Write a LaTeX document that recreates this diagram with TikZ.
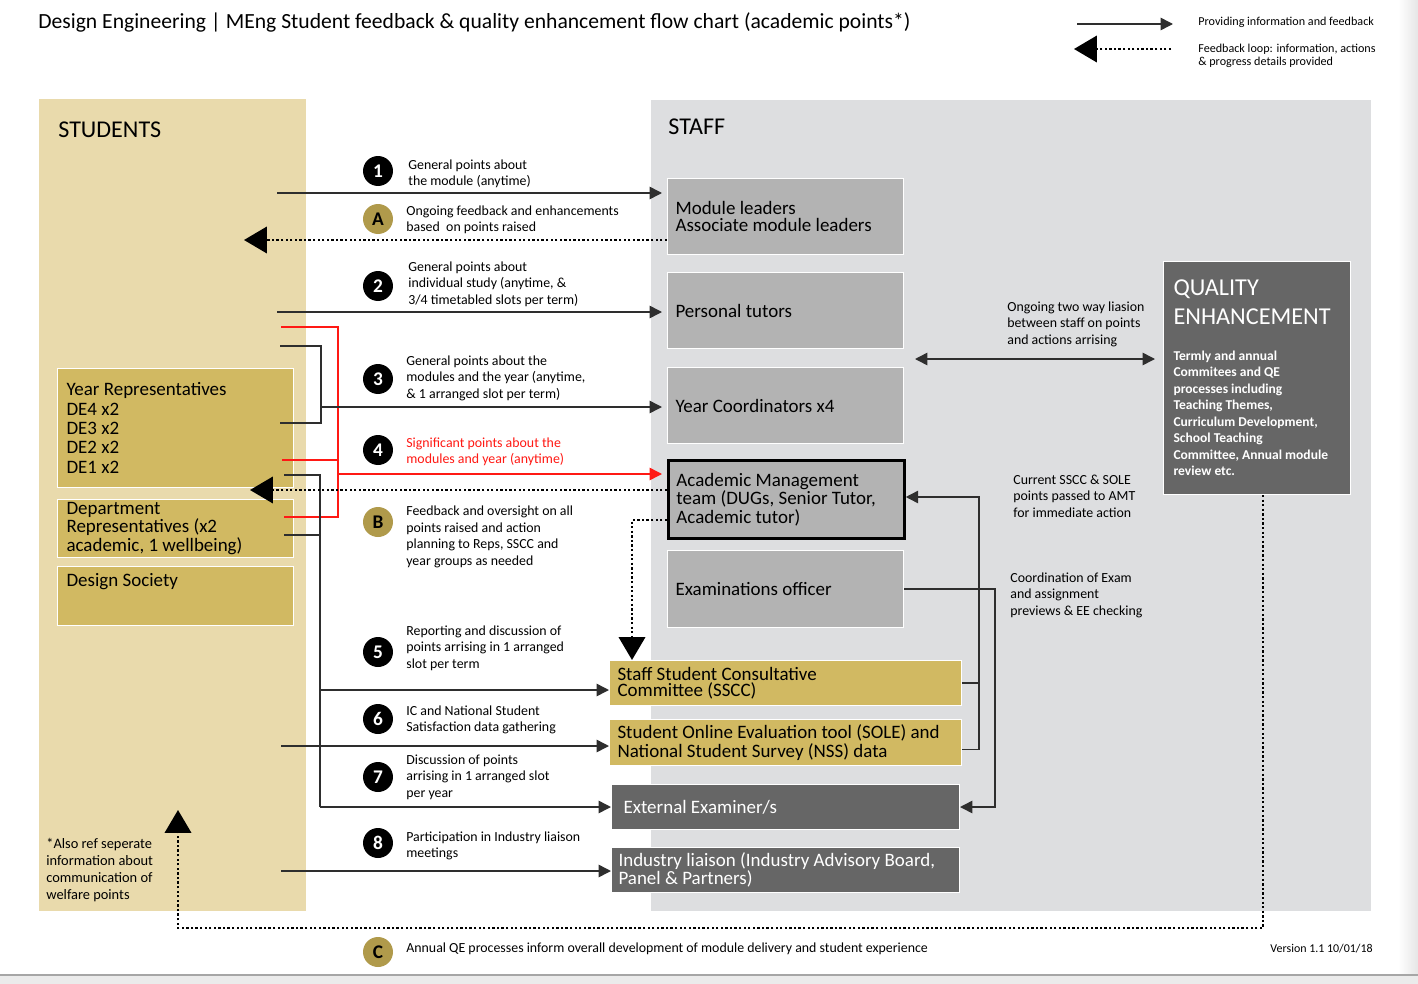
\documentclass[tikz,border=0pt]{standalone}
\usepackage{fontspec}
\setmainfont{Carlito}
\usetikzlibrary{arrows.meta,positioning}

\definecolor{studtan}{RGB}{233,218,172}
\definecolor{staffgrey}{RGB}{221,222,224}
\definecolor{repgold}{RGB}{209,185,98}
\definecolor{boxgrey}{RGB}{179,179,179}
\definecolor{darkbox}{RGB}{102,102,102}
\definecolor{circgold}{RGB}{176,154,75}
\definecolor{flowred}{RGB}{255,25,20}

\begin{document}
\lineskiplimit=-20pt
\begin{tikzpicture}[x=0.02cm,y=-0.02cm,
    every node/.style={inner sep=0pt},
    flow/.style={-{Triangle[length=7pt,width=7pt]},line width=0.85pt,draw=black!82},
    both/.style={flow,{Triangle[length=7pt,width=7pt]}-{Triangle[length=7pt,width=7pt]}},
    link/.style={line width=0.85pt,draw=black!82},
    loop/.style={-{Triangle[length=13pt,width=15pt]},line width=1.3pt,dash pattern=on 1.3pt off 1.3pt},
    gap/.style={shorten >=0.1cm},
    lbl/.style={font=\fontsize{7.9}{9.4}\selectfont,align=left,anchor=west},
    numdot/.style={circle,fill=black,text=white,minimum size=0.6cm,font=\fontsize{11}{11}\selectfont\bfseries},
    letdot/.style={numdot,fill=circgold,text=black},
    unit/.style={draw=white,line width=0.6pt,anchor=north west,align=flush left,font=\fontsize{10.8}{9.2}\selectfont,inner xsep=0.16cm},
    studbox/.style={unit,fill=repgold,minimum width=4.72cm,text width=4.36cm,inner xsep=0.18cm},
    staffbox/.style={unit,fill=boxgrey,minimum width=4.72cm,text width=4.4cm,minimum height=1.52cm},
    goldbar/.style={unit,fill=repgold,minimum width=7.04cm,text width=6.72cm},
    darkbar/.style={unit,fill=darkbox,text=white,minimum width=6.96cm,minimum height=0.9cm}]
  \useasboundingbox (0,0) rectangle (1418,984);
  \fill[white] (0,0) rectangle (1418,984);
  \shade[left color=white,right color=black!10] (1398,0) rectangle (1418,975);
  \fill[black!8] (0,975) rectangle (1418,984);
  \draw[black!35,line width=1pt] (0,975) -- (1418,975);

  % panels
  \fill[studtan] (39,99) rectangle (306,911);
  \fill[staffgrey] (651,100) rectangle (1371,911);
  \node[anchor=west,font=\fontsize{13.7}{15}\selectfont] (studhead) at (58,130) {STUDENTS};
  \node[anchor=west,font=\fontsize{13.7}{15}\selectfont] (staffhead) at (668,127) {STAFF};

  % title and key
  \node[anchor=west,font=\fontsize{12.3}{14}\selectfont] (title) at (38,22)
    {Design Engineering | MEng Student feedback \& quality enhancement flow chart (academic points*)};
  \coordinate (key1) at (1077,24);
  \coordinate (key2) at (1171,49);
  \draw[flow] (key1) -- ++(96,0);
  \draw[loop] (key2) -- ++(-97,0);
  \node[lbl,font=\fontsize{6.9}{7.6}\selectfont] (keytxt1) at (1198,22) {Providing information and feedback};
  \node[lbl,font=\fontsize{6.9}{7.6}\selectfont] (keytxt2) at (1198,56) {Feedback loop: information, actions\\\& progress details provided};

  % student groups
  \node[studbox,minimum height=2.38cm,font=\fontsize{10.8}{11}\selectfont] (reps) at (57,368)
    {Year Representatives\\DE4 x2\\DE3 x2\\DE2 x2\\DE1 x2};
  \node[studbox,minimum height=1.16cm,font=\fontsize{10.8}{9.3}\selectfont] (dept) at (57,499)
    {Department\\Representatives (x2\\academic, 1 wellbeing)};
  \node[studbox,minimum height=1.18cm] (soc) at (57,566) {Design Society\\[9pt]\mbox{}};
  \node[lbl,font=\fontsize{8.2}{9.8}\selectfont] (note) at (46,870)
    {*Also ref seperate\\information about\\communication of\\welfare points};

  % staff groups
  \node[staffbox] (ml) at (667,178) {Module leaders\\Associate module leaders};
  \node[staffbox] (pt) at (667,272) {Personal tutors};
  \node[staffbox] (yc) at (667,367) {Year Coordinators x4};
  \node[staffbox,draw=black,line width=1.6pt,minimum height=1.56cm] (amt) at (667,459)
    {Academic Management\\team (DUGs, Senior Tutor,\\Academic tutor)};
  \node[staffbox,minimum height=1.54cm] (exam) at (667,550) {Examinations officer};
  \node[goldbar,minimum height=0.9cm] (sscc) at (609,660) {Staff Student Consultative\\Committee (SSCC)};
  \node[goldbar,minimum height=0.92cm] (sole) at (609,719)
    {Student Online Evaluation tool (SOLE) and\\National Student Survey (NSS) data};
  \node[darkbar,inner xsep=0.24cm,text width=6.48cm] (ext) at (611,784) {External Examiner/s};
  \node[darkbar,inner xsep=0.14cm,text width=6.68cm] (ind) at (611,847)
    {Industry liaison (Industry Advisory Board,\\Panel \& Partners)};
  \node[unit,fill=darkbox,text=white,minimum width=3.74cm,text width=3.34cm,inner xsep=0.2cm,minimum height=4.66cm] (qe) at (1163,261)
    {{\fontsize{13.8}{16.4}\selectfont QUALITY\\ENHANCEMENT\par}\vspace{11pt}%
     {\fontsize{7.7}{9.4}\selectfont\bfseries Termly and annual\\Commitees and QE\\processes including\\Teaching Themes,\\Curriculum Development,\\School Teaching\\Committee, Annual module\\review etc.\par}};

  % numbered points
  \node[numdot] (n1) at (378,171) {1};
  \node[lbl] (t1) at (408,174) {General points about\\the module (anytime)};
  \node[letdot] (nA) at (378,219) {A};
  \node[lbl] (tA) at (406,220) {Ongoing feedback and enhancements\\based\ \ on points raised};
  \node[numdot] (n2) at (378,286) {2};
  \node[lbl] (t2) at (408,284) {General points about\\individual study (anytime, \&\\3/4 timetabled slots per term)};
  \node[numdot] (n3) at (378,379) {3};
  \node[lbl] (t3) at (406,378) {General points about the\\modules and the year (anytime,\\\& 1 arranged slot per term)};
  \node[numdot] (n4) at (378,450) {4};
  \node[lbl,text=flowred] (t4) at (406,452) {Significant points about the\\modules and year (anytime)};
  \node[letdot] (nB) at (378,522) {B};
  \node[lbl] (tB) at (406,537) {Feedback and oversight on all\\points raised and action\\planning to Reps, SSCC and\\year groups as needed};
  \node[numdot] (n5) at (378,652) {5};
  \node[lbl] (t5) at (406,648) {Reporting and discussion of\\points arrising in 1 arranged\\slot per term};
  \node[numdot] (n6) at (378,719) {6};
  \node[lbl] (t6) at (406,720) {IC and National Student\\Satisfaction data gathering};
  \node[numdot] (n7) at (378,777) {7};
  \node[lbl] (t7) at (406,777) {Discussion of points\\arrising in 1 arranged slot\\per year};
  \node[numdot] (n8) at (378,843) {8};
  \node[lbl] (t8) at (406,846) {Participation in Industry liaison\\meetings};
  \node[letdot] (nC) at (378,952) {C};
  \node[lbl] (tC) at (406,949)
    {Annual QE processes inform overall development of module delivery and student experience};
  \node[lbl,anchor=east,font=\fontsize{6.8}{8}\selectfont] (ver) at (1373,949) {Version 1.1 10/01/18};

  % notes on the staff side
  \node[lbl] (liatxt) at (1007,324) {Ongoing two way liasion\\between staff on points\\and actions arrising};
  \node[lbl] (amttxt) at (1013,496) {Current SSCC \& SOLE\\points passed to AMT\\for immediate action};
  \node[lbl] (examtxt) at (1010,595) {Coordination of Exam\\and assignment\\previews \& EE checking};

  % student to staff
  \coordinate (s1) at (277,193);
  \coordinate (s2) at (277,312);
  \draw[flow,gap] (s1) -- (s1 -| ml.west);
  \draw[flow,gap] (s2) -- (s2 -| pt.west);
  \coordinate (y3a) at (280,346);
  \coordinate (y3b) at (280,423);
  \coordinate (b3) at (321,407);
  \draw[link] (y3a) -| (b3) |- (y3b);
  \coordinate (r4a) at (281,327);
  \coordinate (r4b) at (282,460);
  \coordinate (r4c) at (284,517);
  \coordinate (r4) at (338,474);
  \draw[link,draw=flowred] (r4a) -| (r4) |- (r4c);
  \draw[link,draw=flowred] (r4b) -- (r4b -| r4);
  \draw[flow,draw=flowred,color=flowred,gap] (r4) -- (r4 -| amt.west);
  \draw[flow,gap] (b3) -- (b3 -| yc.west);
  \coordinate (k5a) at (284,475);
  \coordinate (k5b) at (284,535);
  \coordinate (k5) at (320,690);
  \coordinate (k7) at (320,807);
  \draw[link] (k5a) -| (k7);
  \draw[link] (k5b) -- (k5b -| k7);
  \draw[flow] (k5) -- (k5 -| sscc.west);
  \draw[flow] (k7) -- (k7 -| ext.west);
  \coordinate (s6) at (281,746);
  \coordinate (s8) at (281,871);
  \draw[flow] (s6) -- (s6 -| sole.west);
  \draw[flow] (s8) -- (s8 -| ind.west);

  % feedback loops
  \coordinate (a1) at (244,240);
  \coordinate (bt) at (250,490);
  \coordinate (d5) at (632,520);
  \draw[loop] (ml.west |- a1) -- (a1);
  \draw[loop] (amt.west |- bt) -- (bt);
  \draw[loop] (amt.west |- d5) -- (d5) -- (d5 |- sscc.north);
  \coordinate (cb) at (1263,928);
  \coordinate (ct) at (178,810);
  \draw[loop] (cb |- qe.south) -- (cb) -| (ct);

  % staff links
  \coordinate (lia) at (915,359);
  \draw[both,shorten >=0.16cm] (lia) -- (lia -| qe.west);
  \coordinate (rv) at (979,497);
  \draw[link] (sscc.east) -- (sscc.east -| rv);
  \draw[flow] ([yshift=-0.14cm]sole.east) -| (rv) -- (rv -| amt.east);
  \coordinate (ev) at (995,807);
  \draw[flow] (exam.east) -| (ev) -- (ev -| ext.east);
\end{tikzpicture}
\end{document}
